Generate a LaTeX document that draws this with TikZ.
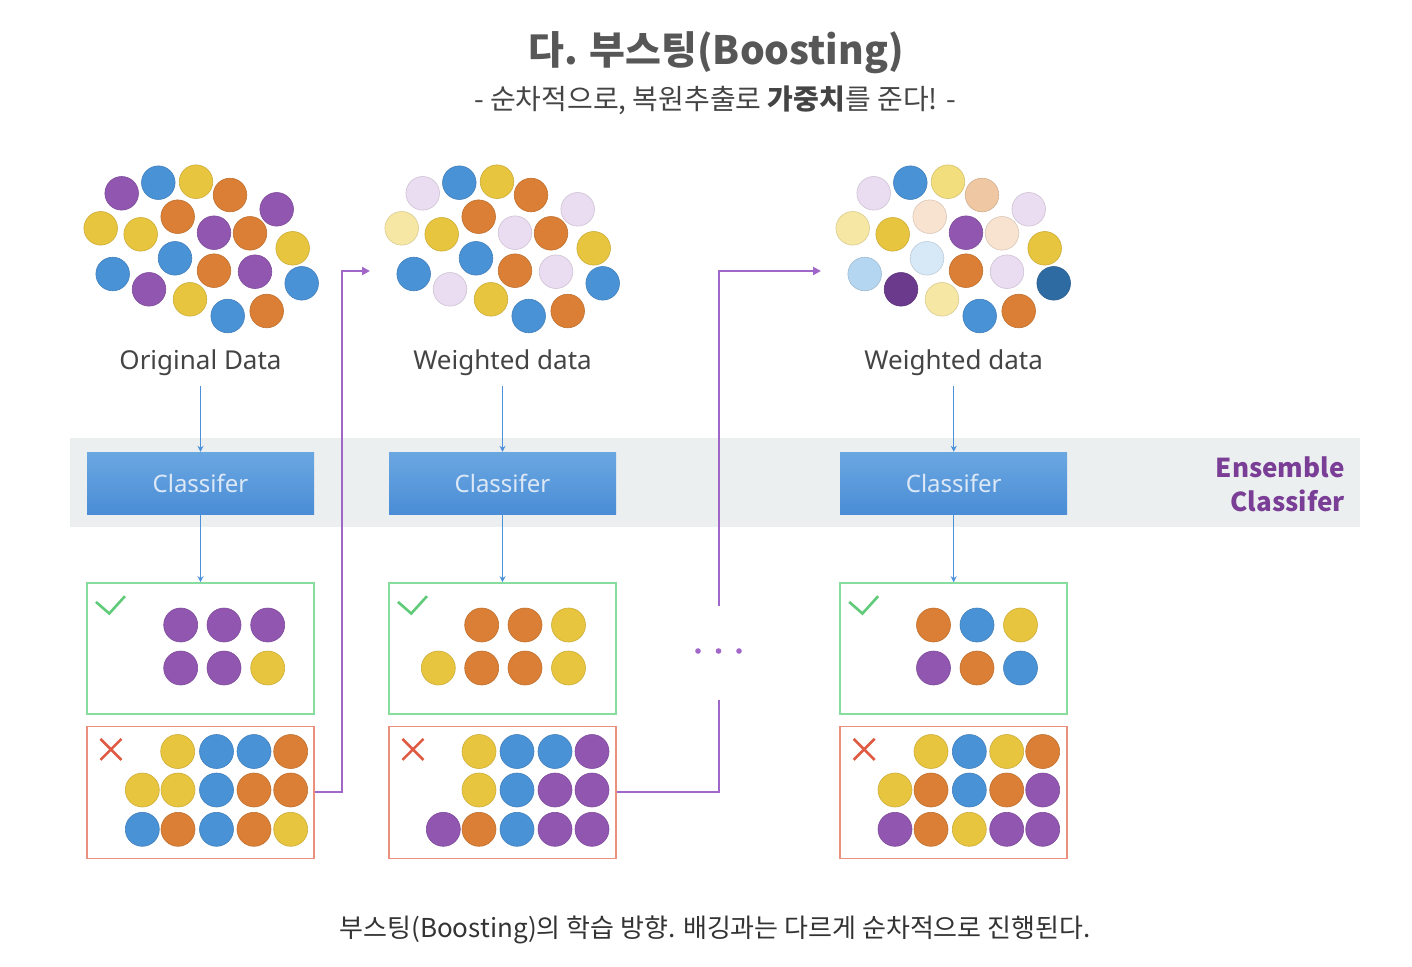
\documentclass[tikz,border=0pt]{standalone}
\usepackage{fontspec}
\setmainfont{Noto Sans}
\newfontfamily\krfont{Noto Sans CJK KR}
\usetikzlibrary{positioning,arrows.meta}

% ball colours
\definecolor{cP}{HTML}{9056B0}
\definecolor{cB}{HTML}{4A92D6}
\definecolor{cY}{HTML}{E8C53E}
\definecolor{cO}{HTML}{DA7F35}
\definecolor{cLP}{HTML}{EADDF1}
\definecolor{cLY}{HTML}{F7E7A5}
\definecolor{cMY}{HTML}{F3DE7E}
\definecolor{cLO}{HTML}{EFC7A2}
\definecolor{cVLO}{HTML}{F8E2D0}
\definecolor{cLB}{HTML}{B5D6F0}
\definecolor{cVLB}{HTML}{D7E8F6}
\definecolor{cDP}{HTML}{6B3A8C}
\definecolor{cDB}{HTML}{2F6BA3}
% other colours
\definecolor{bandGray}{HTML}{ECEFF0}
\definecolor{clsTop}{HTML}{6BA7E1}
\definecolor{clsBot}{HTML}{4A8DD6}
\definecolor{clsText}{HTML}{DCE8F6}
\definecolor{okGreen}{HTML}{86DD9E}
\definecolor{checkGreen}{HTML}{5FCB79}
\definecolor{errRed}{HTML}{E9907E}
\definecolor{crossRed}{HTML}{E05B43}
\definecolor{flowBlue}{HTML}{4A90DA}
\definecolor{boostPurple}{HTML}{A066C8}
\definecolor{ensPurple}{HTML}{7A3E96}
\definecolor{labelGray}{HTML}{444444}

\tikzset{
  ball/.style={fill=#1, draw=#1!88!black, line width=0.6pt},
  band/.style={fill=bandGray, minimum width=1290pt, minimum height=89pt, inner sep=0pt},
  clsbox/.style={top color=clsTop, bottom color=clsBot, minimum width=227pt, minimum height=62pt,
    inner sep=0pt, text=clsText, font=\fontsize{24}{28}\selectfont},
  datalabel/.style={text=labelGray, font=\fontsize{26}{30}\selectfont},
  okbox/.style={draw=okGreen, line width=1.5pt, minimum width=227pt, minimum height=131pt},
  errbox/.style={draw=errRed, line width=1.5pt, minimum width=227pt, minimum height=132pt},
  flow/.style={draw=flowBlue, line width=1.4pt, -{Stealth[length=6pt,width=6pt]}},
  boost/.style={draw=boostPurple, line width=2pt},
  boostarrow/.style={boost, -{Triangle[length=8pt,width=8pt]}},
}

\begin{document}
\begin{tikzpicture}[x=1pt,y=-1pt]
\useasboundingbox[fill=white] (0,0) rectangle (1412,966);

% Titles
  \node[text=labelGray!90!white, font=\krfont\bfseries\fontsize{39}{44}\selectfont, anchor=base]
    (title) at (716,64) {다. 부스팅(Boosting)};
  \node[text=labelGray, font=\krfont\fontsize{28}{32}\selectfont]
    (subtitle) at (715,100) {- 순차적으로, 복원추출로 \textbf{가중치}를 준다! -};
  \node[text=black!80, font=\krfont\fontsize{26}{30}\selectfont]
    (caption) at (715,930) {부스팅(Boosting)의 학습 방향. 배깅과는 다르게 순차적으로 진행된다.};

% Band
  \node[band] (band) at (715,482.5) {};
  \node[text=ensPurple, font=\krfont\bfseries\fontsize{26}{34}\selectfont, align=right,
    anchor=east, inner sep=0pt] (ens) at (1345,484) {Ensemble\\Classifer};

% Data clouds
  \foreach \px/\py/\ca/\cb/\cc in {
      121.7/193.3/cP/cLP/cLP, 158.3/182.7/cB/cB/cB, 196/181.7/cY/cY/cMY,
      230/195/cO/cO/cLO, 276.7/209.3/cP/cLP/cLP, 100.7/228.3/cY/cLY/cLY,
      140.7/234.3/cY/cY/cY, 177.7/216.7/cO/cO/cVLO, 214/232.7/cP/cLP/cP,
      250/233.3/cO/cO/cVLO, 292.7/248.3/cY/cY/cY, 112.7/274/cB/cB/cLB,
      175/258.3/cB/cB/cVLB, 214/270.7/cO/cO/cO, 255/271.7/cP/cLP/cLP,
      149/289.3/cP/cLP/cDP, 190/299.3/cY/cY/cLY, 301.7/283.3/cB/cB/cDB,
      227.7/316/cB/cB/cB, 266.7/311/cO/cO/cO}{
    \filldraw[ball=\ca] (\px,\py) circle[radius=16.8pt];
    \filldraw[ball=\cb] (\px+301,\py) circle[radius=16.8pt];
    \filldraw[ball=\cc] (\px+752,\py) circle[radius=16.8pt];
  }

% Columns
  \foreach \i/\cx/\txt in {1/200.5/Original Data, 2/502.5/Weighted data, 3/953.7/Weighted data}{
    \node[clsbox] (cls\i) at (\cx,483) {Classifer};
    \node[datalabel, anchor=base] (lab\i) at (\cx,369) {\txt};
    \node[okbox, below=68pt of cls\i] (ok\i) {};
    \node[errbox, below=11pt of ok\i] (err\i) {};
    \draw[flow, shorten <=7pt] (lab\i) -- (cls\i);
    \draw[flow] (cls\i) -- (ok\i);
    \draw[checkGreen, line width=2.6pt]
      ([shift={(9.7,19.7)}]ok\i.north west) -- ++(13.3,11.6) -- ++(15.7,-17.3);
    \draw[crossRed, line width=2.6pt]
      ([shift={(14.2,13.2)}]err\i.north west) -- ++(21,21)
      ([shift={(35.2,13.2)}]err\i.north west) -- ++(-21,21);
  }

% Sorted balls
  \foreach \bx/\by/\c in {
      180.7/625/cP, 224/625/cP, 267.7/625/cP, 180.7/668/cP, 224/668/cP, 267.7/668/cY,
      481.7/625/cO, 525/625/cO, 568.5/625/cY, 438.3/668/cY, 481.7/668/cO, 525/668/cO, 568.5/668/cY,
      933.5/625/cO, 977/625/cB, 1020.5/625/cY, 933.5/668/cP, 977/668/cO, 1020.5/668/cB,
      177.7/751.5/cY, 216.5/751.5/cB, 254/751.5/cB, 290.7/751.5/cO,
      142.3/790/cY, 178/790/cY, 216.5/790/cB, 254/790/cO, 290.7/790/cO,
      142.3/829.3/cB, 178/829.3/cO, 216.5/829.3/cB, 254/829.3/cO, 290.7/829.3/cY,
      479/751.5/cY, 517/751.5/cB, 555/751.5/cB, 592/751.5/cP,
      479/790/cY, 517/790/cB, 555/790/cP, 592/790/cP,
      443.3/829.3/cP, 479/829.3/cO, 517/829.3/cB, 555/829.3/cP, 592/829.3/cP,
      931/751.5/cY, 969.3/751.5/cB, 1006.7/751.5/cY, 1042.7/751.5/cO,
      895/790/cY, 931/790/cO, 969.3/790/cB, 1006.7/790/cO, 1042.7/790/cP,
      895/829.3/cP, 931/829.3/cO, 969.3/829.3/cY, 1006.7/829.3/cP, 1042.7/829.3/cP}{
    \filldraw[ball=\c] (\bx,\by) circle[radius=17pt];
  }

% Boosting path
  \coordinate (turn1) at (342,271);
  \coordinate (tip1)  at (370,271);
  \coordinate (gapA)  at (719,700);
  \coordinate (gapB)  at (719,606);
  \coordinate (tip2)  at (821,271);
  \draw[boostarrow] (err1.east) -| (turn1) -- (tip1);
  \draw[boost] (err2.east) -| (gapA);
  \draw[boostarrow] (gapB) |- (tip2);
  \foreach \dx in {698,718.5,739}
    \fill[boostPurple] (\dx,651) circle[radius=2.8pt];

\end{tikzpicture}
\end{document}
